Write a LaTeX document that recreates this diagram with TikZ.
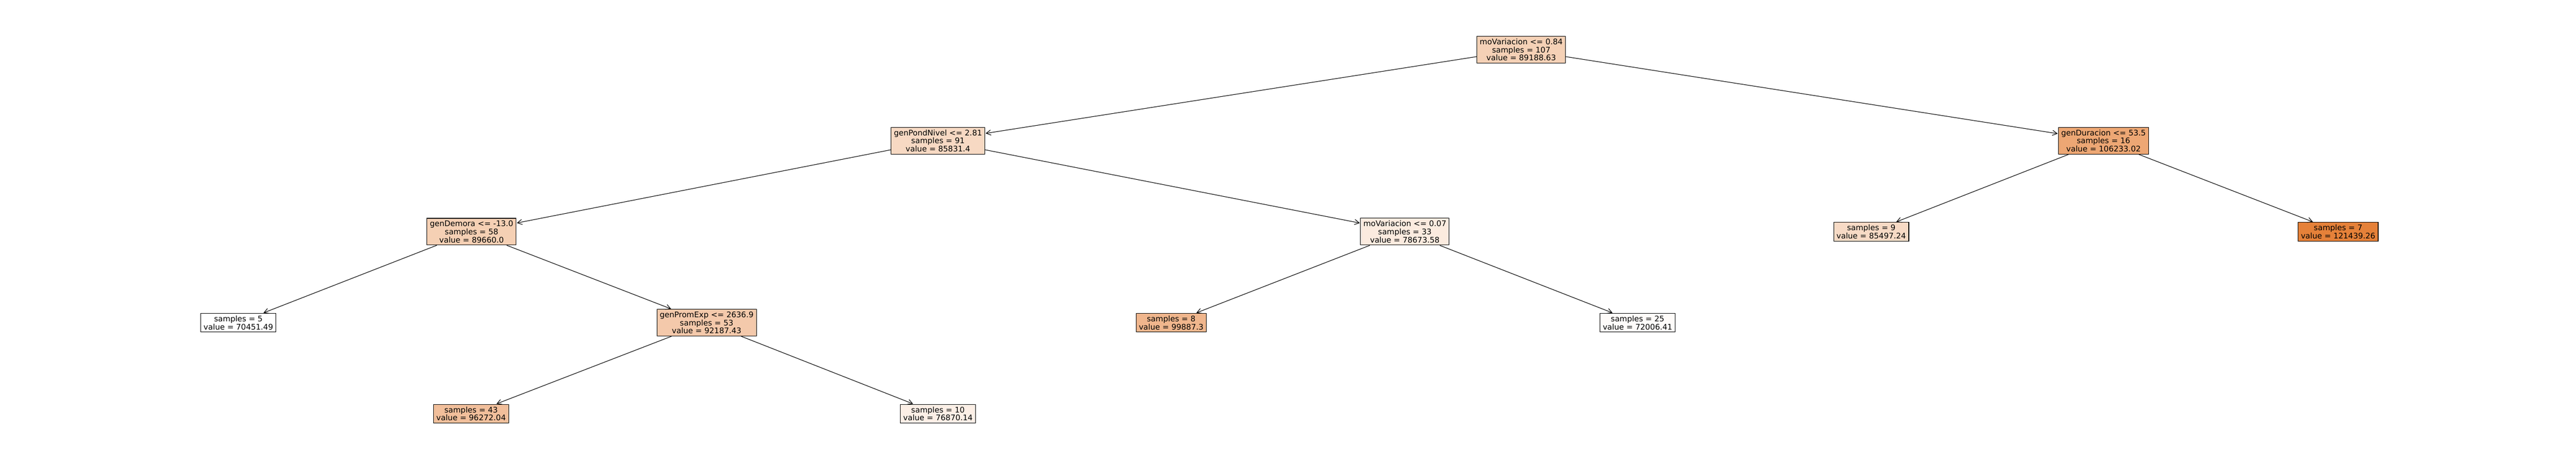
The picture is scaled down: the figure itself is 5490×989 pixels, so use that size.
\documentclass[tikz,border=0pt]{standalone}
\usepackage{fontspec}
\setmainfont{DejaVu Sans}
\usetikzlibrary{arrows.meta}
\definecolor{cRoot}{RGB}{245,209,182}
\definecolor{cPond}{RGB}{247,217,195}
\definecolor{cDur}{RGB}{237,167,116}
\definecolor{cDem}{RGB}{245,208,180}
\definecolor{cVar}{RGB}{251,235,223}
\definecolor{cNine}{RGB}{247,218,197}
\definecolor{cSeven}{RGB}{229,129,57}
\definecolor{cFive}{RGB}{255,255,255}
\definecolor{cProm}{RGB}{244,201,171}
\definecolor{cEight}{RGB}{240,182,141}
\definecolor{cTwentyFive}{RGB}{254,251,249}
\definecolor{cFortyThree}{RGB}{242,191,155}
\definecolor{cTen}{RGB}{252,239,230}
\tikzset{
  treebox/.style={draw=black, line width=1.2pt, align=center, inner xsep=6pt, inner ysep=5pt,
    font=\fontsize{16.5}{17.2}\selectfont},
  treeedge/.style={line width=1.2pt, -{Straight Barb[length=10pt,width=11pt,line width=1.2pt]}, shorten >=1pt}
}
\begin{document}
\begin{tikzpicture}[x=1pt,y=-1pt]
\useasboundingbox (0,0) rectangle (5490,989);
\node[treebox, fill=cRoot] (n0) at (3242,106) {moVariacion <= 0.84\\samples = 107\\value = 89188.63};
\node[treebox, fill=cPond] (n1) at (1999,300) {genPondNivel <= 2.81\\samples = 91\\value = 85831.4};
\node[treebox, fill=cDur] (n2) at (4483,300) {genDuracion <= 53.5\\samples = 16\\value = 106233.02};
\node[treebox, fill=cDem] (n3) at (1005,494) {genDemora <= -13.0\\samples = 58\\value = 89660.0};
\node[treebox, fill=cVar] (n4) at (2994,494) {moVariacion <= 0.07\\samples = 33\\value = 78673.58};
\node[treebox, fill=cNine] (n5) at (3988,494) {samples = 9\\value = 85497.24};
\node[treebox, fill=cSeven] (n6) at (4983,494) {samples = 7\\value = 121439.26};
\node[treebox, fill=cFive] (n7) at (508,688) {samples = 5\\value = 70451.49};
\node[treebox, fill=cProm] (n8) at (1506,688) {genPromExp <= 2636.9\\samples = 53\\value = 92187.43};
\node[treebox, fill=cEight] (n9) at (2496,688) {samples = 8\\value = 99887.3};
\node[treebox, fill=cTwentyFive] (n10) at (3490,688) {samples = 25\\value = 72006.41};
\node[treebox, fill=cFortyThree] (n11) at (1004,882) {samples = 43\\value = 96272.04};
\node[treebox, fill=cTen] (n12) at (1999,882) {samples = 10\\value = 76870.14};
\draw[treeedge] (n0) -- (n1);
\draw[treeedge] (n0) -- (n2);
\draw[treeedge] (n1) -- (n3);
\draw[treeedge] (n1) -- (n4);
\draw[treeedge] (n2) -- (n5);
\draw[treeedge] (n2) -- (n6);
\draw[treeedge] (n3) -- (n7);
\draw[treeedge] (n3) -- (n8);
\draw[treeedge] (n4) -- (n9);
\draw[treeedge] (n4) -- (n10);
\draw[treeedge] (n8) -- (n11);
\draw[treeedge] (n8) -- (n12);
\end{tikzpicture}
\end{document}
